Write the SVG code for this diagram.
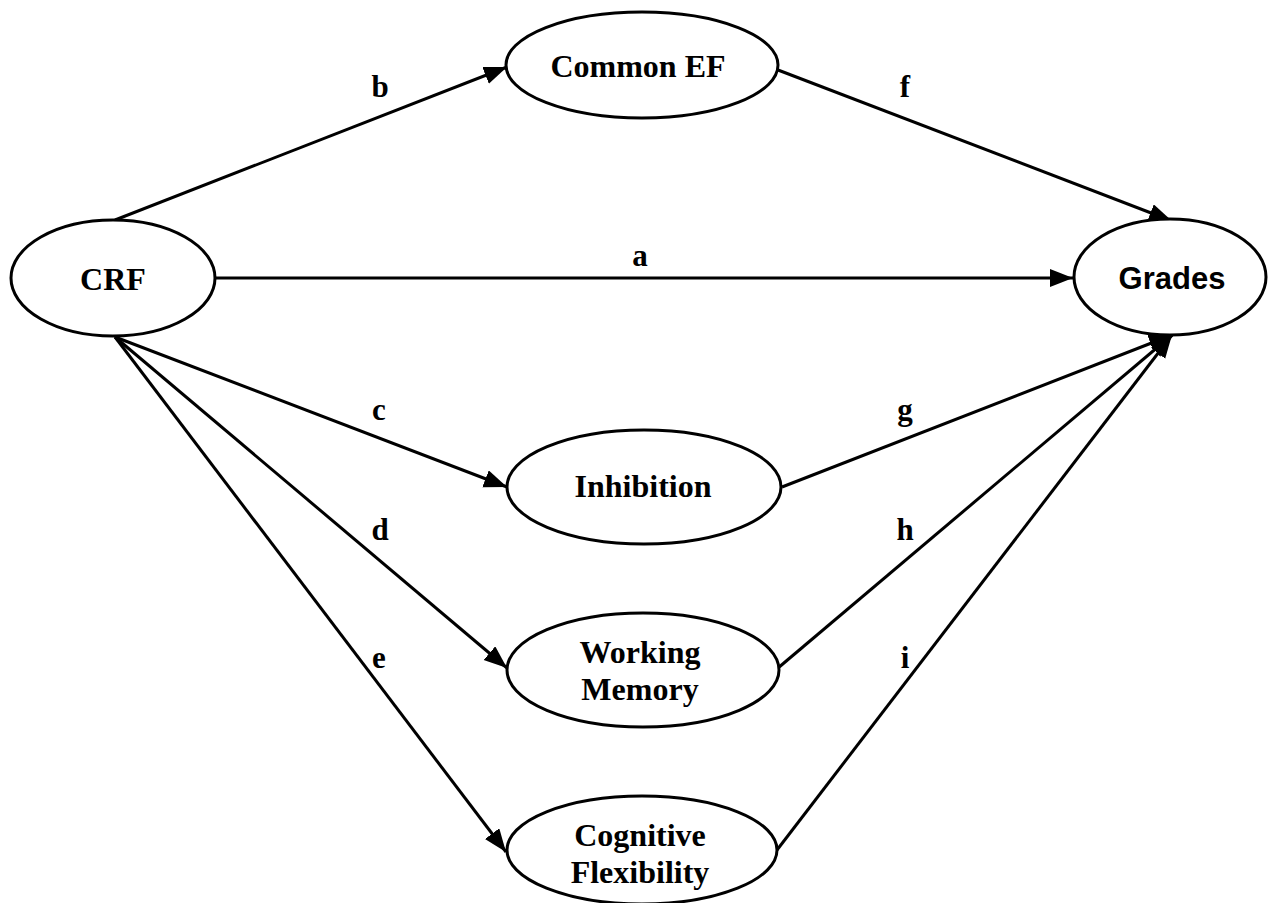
<svg xmlns="http://www.w3.org/2000/svg" width="1268" height="903" viewBox="0 0 1268 903">
<style>
.node{fill:#fff;stroke:#000;stroke-width:3}
.t{font-family:"Liberation Serif","Times New Roman",serif;font-weight:bold;font-size:32px;text-anchor:middle;fill:#000}
.ts{font-family:"Liberation Sans",Arial,sans-serif;font-weight:bold;font-size:31px;text-anchor:middle;fill:#000}
.lbl{font-family:"Liberation Serif","Times New Roman",serif;font-weight:bold;font-size:31px;text-anchor:middle;fill:#000}
.e{stroke:#000;stroke-width:3;fill:none;marker-end:url(#ah)}
</style>
<defs>
<marker id="ah" markerUnits="userSpaceOnUse" markerWidth="26" markerHeight="20" refX="23" refY="9" orient="auto">
<path d="M0,0 L23,9 L0,18 z" fill="#000"/>
</marker>
</defs>
<rect width="1268" height="903" fill="#fff"/>
<g id="connectors">
<line class="e" x1="115" y1="220" x2="507" y2="67"/>
<line class="e" x1="215" y1="278" x2="1073" y2="278"/>
<line class="e" x1="778" y1="70" x2="1172" y2="221"/>
<line class="e" x1="115" y1="337" x2="507" y2="487"/>
<line class="e" x1="115" y1="337" x2="507" y2="668"/>
<line class="e" x1="115" y1="337" x2="506" y2="852"/>
<line class="e" x1="782" y1="487" x2="1172" y2="335"/>
<line class="e" x1="778" y1="668" x2="1172" y2="335"/>
<line class="e" x1="777" y1="850" x2="1172" y2="335"/>
<text class="lbl" x="380" y="97">b</text>
<text class="lbl" x="640" y="266">a</text>
<text class="lbl" x="905" y="97">f</text>
<text class="lbl" x="379" y="420">c</text>
<text class="lbl" x="905" y="420">g</text>
<text class="lbl" x="380" y="540">d</text>
<text class="lbl" x="905" y="540">h</text>
<text class="lbl" x="379" y="668">e</text>
<text class="lbl" x="905" y="668">i</text>
</g>
<g id="crf">
<ellipse class="node" cx="113" cy="278" rx="102" ry="58"/>
<text class="t" x="113" y="290">CRF</text>
</g>
<g id="common-ef">
<ellipse class="node" cx="642" cy="65" rx="136" ry="53"/>
<text class="t" x="638" y="77">Common EF</text>
</g>
<g id="grades">
<ellipse class="node" cx="1170" cy="277" rx="96" ry="58"/>
<text class="ts" x="1172" y="289">Grades</text>
</g>
<g id="inhibition">
<ellipse class="node" cx="644" cy="487" rx="137" ry="57"/>
<text class="t" x="643" y="497">Inhibition</text>
</g>
<g id="working-memory">
<ellipse class="node" cx="643" cy="670" rx="136" ry="57"/>
<text class="t" x="640" y="663">Working</text>
<text class="t" x="640" y="700">Memory</text>
</g>
<g id="cognitive-flexibility">
<ellipse class="node" cx="642" cy="850" rx="135" ry="54"/>
<text class="t" x="640" y="846">Cognitive</text>
<text class="t" x="640" y="883">Flexibility</text>
</g>
</svg>
